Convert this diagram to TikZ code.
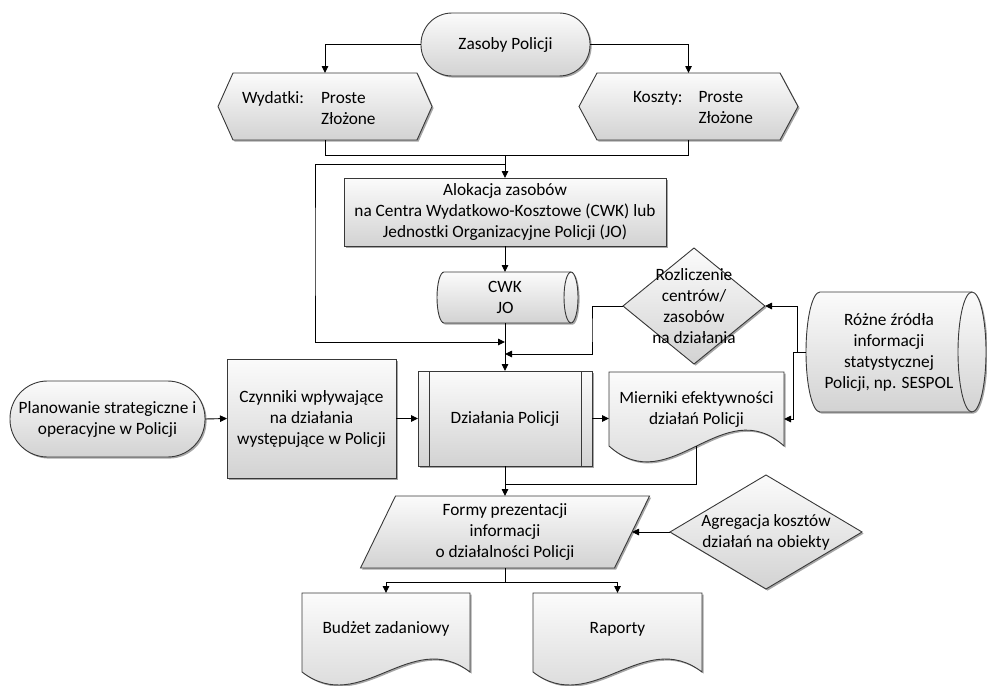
\documentclass[tikz,border=0pt]{standalone}
\usepackage{fontspec}
\setmainfont{Carlito}
\usetikzlibrary{arrows.meta,calc,shadows}
\pgfdeclarelayer{bg}
\pgfsetlayers{bg,main}
\newcommand\dfont{\fontsize{17.3}{21}\selectfont}
\begin{document}
\begin{tikzpicture}[x=1pt,y=-1pt,
  anc/.style={draw=none,inner sep=2pt,outer sep=0pt,align=center,font=\dfont,text=black},
  sz/.style 2 args={minimum width=#1pt,minimum height=#2pt},
  shp/.style={draw=black!78,line width=0.9pt,top color=gray!3,bottom color=gray!35,
    drop shadow={shadow xshift=1.6pt,shadow yshift=-1.6pt,fill=black,opacity=0.35}},
  edg/.style={draw=black!78,line width=0.9pt},
  ln/.style={draw=black,line width=0.9pt},
  arr/.style={ln,-{Triangle[length=7pt,width=6.5pt]}},
]
\useasboundingbox (0,0) rectangle (987,685);

% ---------- nodes ----------
\node[anc,sz={169}{63}] (zas) at (505.5,44.5) {Zasoby Policji};
\node[anc,sz={214}{67}] (wyd) at (325,106.5) {};
\node[anc,anchor=west,inner sep=0pt,align=left] (wydt) at (242,108)
  {Wydatki:\hspace{17pt}Proste\\\hphantom{Wydatki:}\hspace{17pt}Złożone};
\node[anc,sz={219}{67}] (kos) at (688.5,106.5) {};
\node[anc,anchor=west,inner sep=0pt,align=left] (kost) at (633,108)
  {Koszty:\hspace{16pt}Proste\\\hphantom{Koszty:}\hspace{16pt}Złożone};
\node[anc,sz={322}{68}] (aloc) at (505,212)
  {Alokacja zasobów\\na Centra Wydatkowo-Kosztowe (CWK) lub\\Jednostki Organizacyjne Policji (JO)};
\node[anc,sz={141}{51}] (cwk) at (507.5,297.5) {};
\node[anc] (cwkt) at (505,297.5) {CWK\\JO};
\node[anc,sz={142}{116}] (rozl) at (694,306) {Rozliczenie\\centrów/\\zasobów\\na działania};
\node[anc,sz={180}{120}] (rozne) at (896,352) {};
\node[anc] (roznet) at (889,352) {Różne źródła\\informacji\\statystycznej\\Policji, np. SESPOL};
\node[anc,sz={195}{76}] (plan) at (107.5,419) {Planowanie strategiczne i\\operacyjne w Policji};
\node[anc,sz={169}{119}] (czyn) at (311.5,418.5) {Czynniki wpływające\\na działania\\występujące w Policji};
\node[anc,sz={174}{95}] (dzial) at (505,418.5) {Działania Policji};
\node[anc,sz={175}{74}] (mier) at (696.5,409) {Mierniki efektywności\\działań Policji};
\node[anc,sz={289}{72}] (formy) at (505,532) {Formy prezentacji\\informacji\\o działalności Policji};
\node[anc,sz={192}{114}] (agr) at (766,532) {Agregacja kosztów\\działań na obiekty};
\node[anc,sz={168}{79}] (budz) at (386,632.5) {};
\node[anc] (budzt) at (386,629) {Budżet zadaniowy};
\node[anc,sz={169}{79}] (rap) at (617.5,632.5) {};
\node[anc] (rapt) at (617.5,629) {Raporty};

% ---------- shapes (background) ----------
\begin{pgfonlayer}{bg}
\path[shp,rounded corners=31pt] (zas.north west) rectangle (zas.south east);
\path[shp,rounded corners=37.5pt] (plan.north west) rectangle (plan.south east);
\path[shp] (wyd.west) -- ([xshift=15pt]wyd.north west) -- ([xshift=-15pt]wyd.north east)
  -- (wyd.east) -- ([xshift=-15pt]wyd.south east) -- ([xshift=15pt]wyd.south west) -- cycle;
\path[shp] (kos.west) -- ([xshift=18pt]kos.north west) -- ([xshift=-18pt]kos.north east)
  -- (kos.east) -- ([xshift=-18pt]kos.south east) -- ([xshift=18pt]kos.south west) -- cycle;
\path[shp] (aloc.north west) rectangle (aloc.south east);
\path[shp] (czyn.north west) rectangle (czyn.south east);
\path[shp] (dzial.north west) rectangle (dzial.south east);
\draw[edg] ([xshift=11pt]dzial.north west) -- ([xshift=11pt]dzial.south west);
\draw[edg] ([xshift=-11pt]dzial.north east) -- ([xshift=-11pt]dzial.south east);
% CWK cylinder
\path[shp] ([xshift=7pt]cwk.north west) -- ([xshift=-7pt]cwk.north east)
  arc[start angle=-90,end angle=90,x radius=7,y radius=25.5]
  -- ([xshift=7pt]cwk.south west)
  arc[start angle=90,end angle=270,x radius=7,y radius=25.5] -- cycle;
\draw[edg] ([xshift=-7pt]cwk.north east) arc[start angle=-90,end angle=-270,x radius=7,y radius=25.5];
% Rozne cylinder
\path[shp] ([xshift=14pt]rozne.north west) -- ([xshift=-14pt]rozne.north east)
  arc[start angle=-90,end angle=90,x radius=14,y radius=60]
  -- ([xshift=14pt]rozne.south west)
  arc[start angle=90,end angle=270,x radius=14,y radius=60] -- cycle;
\draw[edg] ([xshift=-14pt]rozne.north east) arc[start angle=-90,end angle=-270,x radius=14,y radius=60];
% diamonds
\path[shp] (rozl.north) -- (rozl.east) -- (rozl.south) -- (rozl.west) -- cycle;
\path[shp] (agr.north) -- (agr.east) -- (agr.south) -- (agr.west) -- cycle;
% documents
\path[shp] (mier.south west) -- (mier.north west) -- (mier.north east) -- (mier.south east)
  .. controls +(-61,-55) and +(61,55) .. (mier.south west) -- cycle;
\path[shp] (budz.south west) -- (budz.north west) -- (budz.north east) -- (budz.south east)
  .. controls +(-59,-45) and +(59,45) .. (budz.south west) -- cycle;
\path[shp] (rap.south west) -- (rap.north west) -- (rap.north east) -- (rap.south east)
  .. controls +(-59,-45) and +(59,45) .. (rap.south west) -- cycle;
% parallelogram
\path[shp] ([xshift=35pt]formy.north west) -- (formy.north east)
  -- ([xshift=-35pt]formy.south east) -- (formy.south west) -- cycle;
\end{pgfonlayer}

% ---------- connectors ----------
\coordinate (m1) at (505,155);
\coordinate (m2) at (505,164);
\coordinate (b1) at (315,250);
\coordinate (j1) at (505,342);
\coordinate (j2) at (505,354);
\coordinate (c3) at (592,330);
\coordinate (c4) at (797,330);
\coordinate (c5) at (793,390);
\coordinate (j3) at (505,484);
\coordinate (j4) at (505,582);

\draw[arr] (zas.west) -| (wyd.north);
\draw[arr] (zas.east) -| (kos.north);
\draw[ln] (wyd.south) |- (m1);
\draw[ln] (kos.south) |- (m1);
\draw[arr] (m1) -- (aloc.north);
\draw[arr] (m2) -| (b1) |- (j1);
\draw[arr] (aloc.south) -- (aloc.south |- cwk.north);
\draw[arr] (aloc.south |- cwk.south) -- (dzial.north);
\draw[arr] (rozl.west) -| (c3) |- (j2);
\draw[arr] (rozne.west) -| (c4) |- (rozl.east);
\draw[arr] (rozne.west) -| (c5) |- ([yshift=-10pt]mier.east);
\draw[arr] (plan.east) -- (czyn.west);
\draw[arr] (czyn.east) -- (dzial.west);
\draw[arr] (dzial.east) -- (dzial.east -| mier.west);
\draw[ln] (mier.south) |- (j3);
\draw[arr] (dzial.south) -- (formy.north);
\draw[arr] (agr.west) -- ([xshift=-17.5pt]formy.east);
\draw[ln] (formy.south) -- (j4);
\draw[arr] (j4) -| (budz.north);
\draw[arr] (j4) -| (rap.north);
\end{tikzpicture}
\end{document}
